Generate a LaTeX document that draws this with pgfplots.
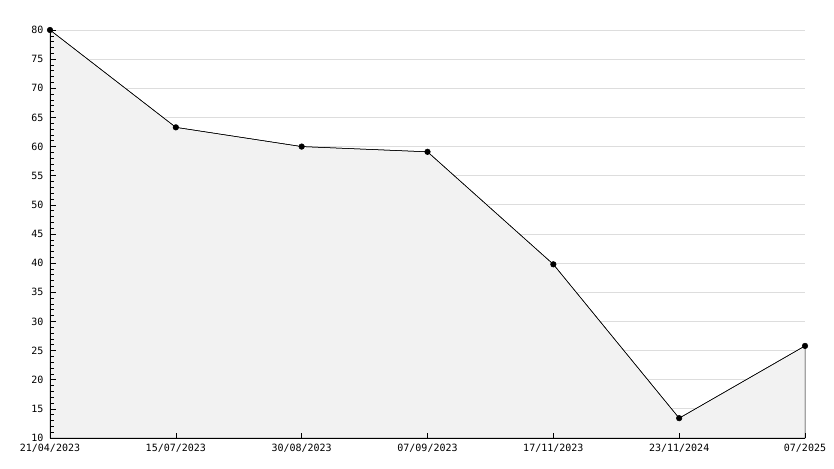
\documentclass[border=0pt]{standalone}
\usepackage{pgfplots}
\pgfplotsset{compat=1.18}
\usepackage{fontspec}
\setmainfont{DejaVu Sans Mono}
\definecolor{fillgray}{HTML}{F2F2F2}
\definecolor{gridgray}{HTML}{DDDDDD}
\pgfplotsset{
  common/.style={
    at={(0,0)}, anchor=south west,
    scale only axis, width=755pt, height=408pt,
    xmin=0, xmax=6, ymin=10, ymax=80,
    axis x line*=bottom, axis y line*=left,
    axis line style={black, line width=0.8pt, -},
    xtick={0,...,6},
    ytick={10,15,...,80},
    minor y tick num=4,
    tick align=inside,
    major tick length=5.5pt, minor tick length=3.5pt,
    tick style={black, line width=0.6pt},
    every tick label/.style={font=\fontsize{10}{12}\selectfont},
    xticklabel style={yshift=-2.5pt},
    yticklabel style={xshift=-3pt},
    /pgf/number format/assume math mode=true,
    clip=false,
  }
}
\begin{document}
\begin{tikzpicture}[x=1pt,y=1pt]
\path[use as bounding box] (-50,-30) rectangle (784,438);
\begin{axis}[common,
  xticklabels={21/04/2023,15/07/2023,30/08/2023,07/09/2023,17/11/2023,23/11/2024,07/2025},
  ymajorgrids, grid style={gridgray, line width=0.8pt},
]
\addplot[draw=black, fill=fillgray, line width=0.5pt, mark=none] coordinates {
  (0,80) (1,63.3) (2,60.0) (3,59.1) (4,39.8) (5,13.4) (6,25.8)
} \closedcycle;
\addplot[black, line width=0.5pt, mark=*, mark size=2.8pt, mark options={fill=black}] coordinates {
  (0,80) (1,63.3) (2,60.0) (3,59.1) (4,39.8) (5,13.4) (6,25.8)
};
\end{axis}
\begin{axis}[common, xticklabels={}, yticklabels={}]
\end{axis}
\end{tikzpicture}
\end{document}
